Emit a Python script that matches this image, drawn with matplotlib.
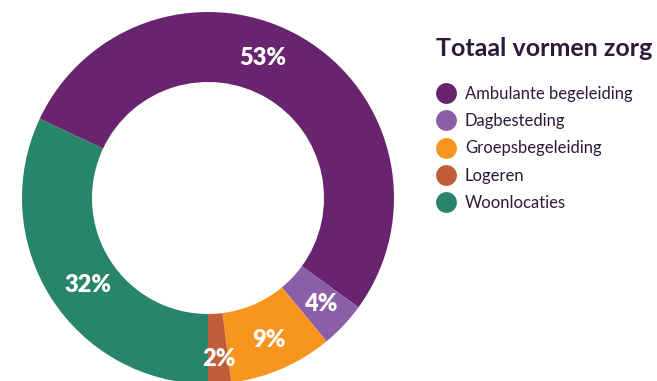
import matplotlib
matplotlib.use("Agg")
import matplotlib.pyplot as plt
from matplotlib.lines import Line2D
import numpy as np

categories = ["Ambulante begeleiding", "Dagbesteding", "Groepsbegeleiding", "Logeren", "Woonlocaties"]
values = [53, 4, 9, 2, 32]
colors = ["#68246F", "#8B5FA8", "#F7951E", "#BF5E38", "#288569"]
title = "Totaal vormen zorg"

W, H = 657, 381
fig = plt.figure(figsize=(W / 100, H / 100), dpi=100)
ax = fig.add_axes([0, 0, 1, 1])

cx, cy, R = 208, H - 198, 186
wedges, texts, autotexts = ax.pie(
    values, colors=colors, startangle=154.8, counterclock=False,
    center=(cx, cy), radius=R, autopct=lambda p: f"{p:.0f}%", pctdistance=0.83,
    wedgeprops=dict(width=70, linewidth=0), frame=True,
    textprops=dict(color="white", fontsize=17, fontweight="heavy", family="Lato"))
ax.set_xlim(0, W)
ax.set_ylim(0, H)
ax.axis("off")

# shift some labels slightly along the ring, as in the reference
ang = np.deg2rad(68.7)
autotexts[0].set_position((cx + 0.81 * R * np.cos(ang), cy + 0.81 * R * np.sin(ang)))
ang = np.deg2rad(216)
autotexts[4].set_position((cx + 0.8 * R * np.cos(ang), cy + 0.8 * R * np.sin(ang)))
ang = np.deg2rad(-86)
autotexts[3].set_position((cx + 0.87 * R * np.cos(ang), cy + 0.87 * R * np.sin(ang)))

handles = [Line2D([], [], marker="o", linestyle="none", markersize=15,
                  markerfacecolor=c, markeredgewidth=0) for c in colors]
leg = ax.legend(handles, categories, loc="upper left", bbox_to_anchor=(429 / W, 1 - 30 / H),
                frameon=False, title=title, alignment="left",
                prop=dict(family="Lato", size=12), labelcolor="#2B1B38",
                handletextpad=0.55, labelspacing=0.67, handlelength=1.2,
                borderaxespad=0)
leg.get_title().set_fontsize(18)
leg.get_title().set_fontweight("bold")
leg.get_title().set_family("Lato")
leg.get_title().set_color("#2B1B38")
leg._legend_box.sep = 19

fig.savefig("out.png", dpi=100)
